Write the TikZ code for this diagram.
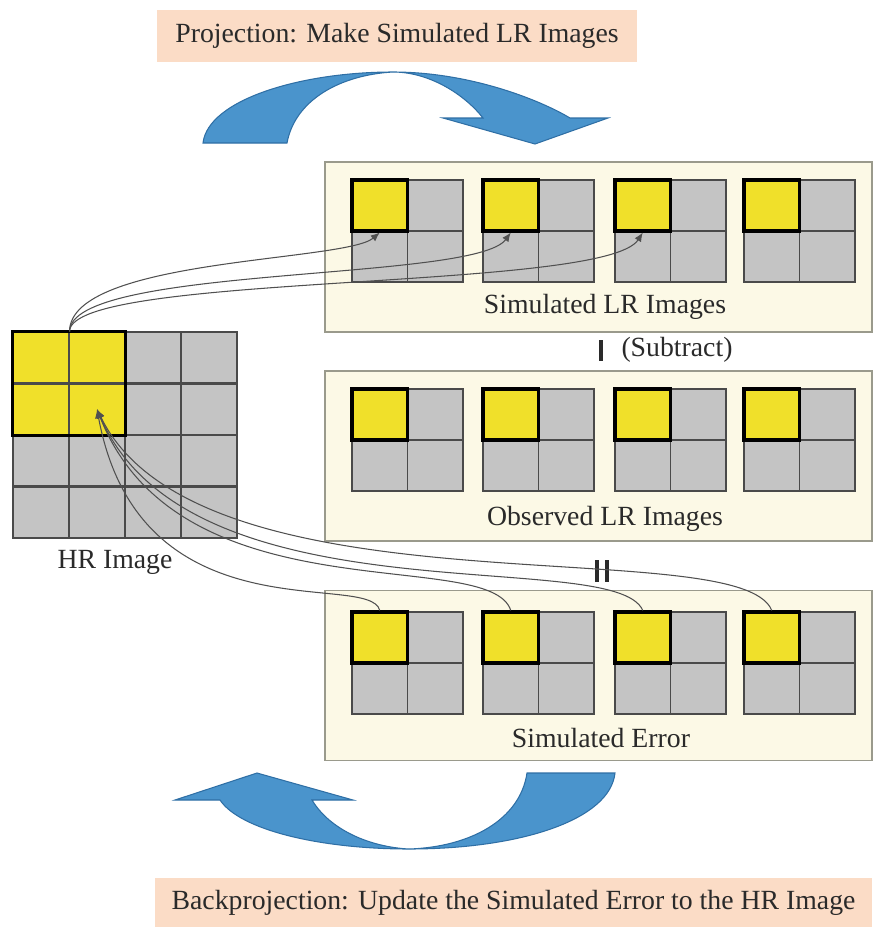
\documentclass[tikz,border=0pt]{standalone}
\usepackage{fontspec}
\setmainfont{Liberation Serif}
\usetikzlibrary{arrows.meta}
\definecolor{cellgray}{HTML}{C4C4C4}
\definecolor{gridline}{HTML}{4A4A4A}
\definecolor{cellyellow}{HTML}{F0E02A}
\definecolor{panelfill}{HTML}{FCF9E6}
\definecolor{paneledge}{HTML}{9A9A8C}
\definecolor{bannerfill}{HTML}{FBDCC6}
\definecolor{arrowblue}{HTML}{4A94CC}
\definecolor{arrowedge}{HTML}{2F6FA5}
\definecolor{textcol}{HTML}{2A2A2A}
\definecolor{linkgray}{HTML}{505050}
\tikzset{
  cell/.style={draw=gridline,line width=0.9pt,fill=cellgray,minimum width=1.11cm,minimum height=1.02cm,inner sep=0pt},
  ycell/.style={cell,fill=cellyellow,draw=black,line width=1.8pt},
  yedge/.style={draw=black,line width=1.8pt},
  panel/.style={draw=paneledge,line width=1pt,fill=panelfill,minimum width=10.94cm,minimum height=3.4cm,inner sep=0pt},
  banner/.style={fill=bannerfill,inner sep=0pt,font=\fontsize{15.8}{19}\selectfont,text=textcol},
  lbl/.style={font=\fontsize{15.8}{19}\selectfont,text=textcol},
  link/.style={draw=linkgray,line width=0.6pt,-{Latex[length=1.8mm,width=1.5mm]}},
  bigarrow/.style={fill=arrowblue,draw=arrowedge,line width=0.6pt},
  signbar/.style={draw=textcol},
}
\begin{document}
\begin{tikzpicture}[x=0.02cm,y=-0.02cm]
\useasboundingbox (0,0) rectangle (875,927);
% banners and the two big blue arrows
\node[banner,minimum width=9.6cm,minimum height=1.04cm] (proj) at (397,36) {Projection: Make Simulated LR Images};
\node[banner,minimum width=14.34cm,minimum height=0.98cm] (back) at (513.5,902.5) {Backprojection: Update the Simulated Error to the HR Image};
\draw[bigarrow] (203,143) .. controls (208,100) and (300,72) .. (393,72) .. controls (470,72) and (540,100) .. (570,118)
  -- (608,118) -- (535,144) -- (443,118) -- (483,118) .. controls (465,95) and (430,72) .. (393,72)
  .. controls (340,75) and (295,100) .. (287,143) -- cycle;
\draw[bigarrow] (615,773) .. controls (610,820) and (520,849) .. (409,849) .. controls (320,849) and (240,830) .. (220,800)
  -- (175,800) -- (257,773) -- (353,800) -- (312,800) .. controls (330,830) and (370,847) .. (409,849)
  .. controls (470,847) and (520,820) .. (527,773) -- cycle;
% panels
\node[panel] (simpanel) at (598.5,247) {};
\node[panel] (obspanel) at (598.5,456) {};
\node[panel] (errpanel) at (598.5,675.5) {};
\node[lbl] (simlbl) at (605,307) {Simulated LR Images};
\node[lbl] (obslbl) at (605,519) {Observed LR Images};
\node[lbl] (errlbl) at (601,738) {Simulated Error};
\node[lbl] (sub) at (677,350) {(Subtract)};
\draw[signbar,line width=2.3pt] (601,340) -- (601,361);
\draw[signbar,line width=2pt] (597,560) -- (597,582) (607,560) -- (607,582);
% LR grids, 2x2 each
\foreach \p/\yy in {s/180,o/389,e/612}{
  \foreach \i/\xx in {1/352,2/483,3/615,4/744}{
    \foreach \c/\r in {1/0,0/1,1/1}
      \node[cell] at (\xx+27.75+55.5*\c,\yy+25.5+51*\r) {};
    \node[ycell] (\p\i) at (\xx+27.75,\yy+25.5) {};
  }
}
% HR grid, 4x4
\foreach \r in {0,...,3}
  \foreach \c in {0,...,3}
    \node[cell] (h\r\c) at (41+56*\c,357.75+51.5*\r) {};
\foreach \r/\c in {0/0,0/1,1/0,1/1}
  \node[cell,fill=cellyellow] at (h\r\c) {};
\draw[yedge] (h00.north west) rectangle (h11.south east);
\node[lbl] (hrlbl) at (115,562) {HR Image};
% projection and backprojection links
\draw[link] (h00.north east) .. controls (70,258) and (345,262) .. (s1.south);
\draw[link] (h00.north east) .. controls (70,265) and (475,282) .. (s2.south);
\draw[link] (h00.north east) .. controls (70,272) and (605,292) .. (s3.south);
\draw[link] (e1.north) .. controls (370,570) and (140,640) .. (h11.center);
\draw[link] (e2.north) .. controls (490,545) and (180,620) .. (h11.center);
\draw[link] (e3.north) .. controls (615,545) and (190,625) .. (h11.center);
\draw[link] (e4.north) .. controls (740,530) and (200,620) .. (h11.center);
\end{tikzpicture}
\end{document}
